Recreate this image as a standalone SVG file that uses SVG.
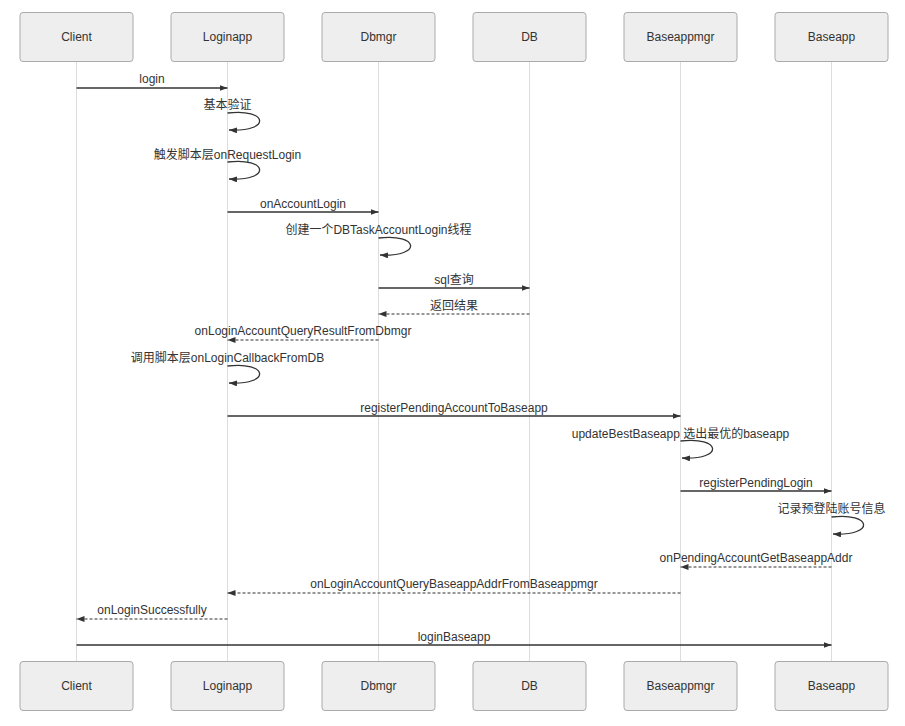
<svg xmlns="http://www.w3.org/2000/svg" width="905" height="726" viewBox="0 0 905 726">
<style>
text{font-family:"Liberation Sans","Noto Sans CJK SC",Arial,sans-serif;font-size:12px;fill:#333;text-anchor:middle}
.box{fill:#eee;stroke:#aaa;stroke-width:1}
.life{stroke:#ddd;stroke-width:1}
.msg{stroke:#333;stroke-width:1.3;fill:none}
.dash{stroke:#333;stroke-width:1.2;fill:none;stroke-dasharray:3,2}
</style>
<defs>
<marker id="arr" markerUnits="userSpaceOnUse" markerWidth="9" markerHeight="7" refX="8" refY="3" orient="auto">
<path d="M0,0 L8,3 L0,6 z" fill="#333"/>
</marker>
</defs>
<rect width="905" height="726" fill="#fff"/>
<g id="lifelines">
<line class="life" x1="76.5" y1="61" x2="76.5" y2="661"/>
<line class="life" x1="227.5" y1="61" x2="227.5" y2="661"/>
<line class="life" x1="378.5" y1="61" x2="378.5" y2="661"/>
<line class="life" x1="529.5" y1="61" x2="529.5" y2="661"/>
<line class="life" x1="680.5" y1="61" x2="680.5" y2="661"/>
<line class="life" x1="831.5" y1="61" x2="831.5" y2="661"/>
</g>
<g id="client"><rect class="box" x="20" y="12.5" width="113" height="49" rx="3"/><text x="76.5" y="41">Client</text><rect class="box" x="20" y="661.5" width="113" height="49" rx="3"/><text x="76.5" y="690">Client</text></g>
<g id="loginapp"><rect class="box" x="171" y="12.5" width="113" height="49" rx="3"/><text x="227.5" y="41">Loginapp</text><rect class="box" x="171" y="661.5" width="113" height="49" rx="3"/><text x="227.5" y="690">Loginapp</text></g>
<g id="dbmgr"><rect class="box" x="322" y="12.5" width="113" height="49" rx="3"/><text x="378.5" y="41">Dbmgr</text><rect class="box" x="322" y="661.5" width="113" height="49" rx="3"/><text x="378.5" y="690">Dbmgr</text></g>
<g id="db"><rect class="box" x="473" y="12.5" width="113" height="49" rx="3"/><text x="529.5" y="41">DB</text><rect class="box" x="473" y="661.5" width="113" height="49" rx="3"/><text x="529.5" y="690">DB</text></g>
<g id="baseappmgr"><rect class="box" x="624" y="12.5" width="113" height="49" rx="3"/><text x="680.5" y="41">Baseappmgr</text><rect class="box" x="624" y="661.5" width="113" height="49" rx="3"/><text x="680.5" y="690">Baseappmgr</text></g>
<g id="baseapp"><rect class="box" x="775" y="12.5" width="113" height="49" rx="3"/><text x="831.5" y="41">Baseapp</text><rect class="box" x="775" y="661.5" width="113" height="49" rx="3"/><text x="831.5" y="690">Baseapp</text></g>
<g id="connectors">
<line class="msg" x1="76.5" y1="88" x2="227.5" y2="88" marker-end="url(#arr)"/>
<text x="152" y="83">login</text>
<path class="msg" d="M227.5,113 C268,108 272,132 229,130" marker-end="url(#arr)"/>
<text x="227.5" y="109">基本验证</text>
<path class="msg" d="M227.5,162 C268,157 272,181 229,179" marker-end="url(#arr)"/>
<text x="227.5" y="159">触发脚本层onRequestLogin</text>
<line class="msg" x1="227.5" y1="212" x2="378.5" y2="212" marker-end="url(#arr)"/>
<text x="303" y="208">onAccountLogin</text>
<path class="msg" d="M378.5,238 C419,233 423,257 380,255" marker-end="url(#arr)"/>
<text x="378.5" y="234">创建一个DBTaskAccountLogin线程</text>
<line class="msg" x1="378.5" y1="288" x2="529.5" y2="288" marker-end="url(#arr)"/>
<text x="454" y="284">sql查询</text>
<line class="dash" x1="529.5" y1="314" x2="378.5" y2="314" marker-end="url(#arr)"/>
<text x="454" y="310">返回结果</text>
<line class="dash" x1="378.5" y1="340" x2="227.5" y2="340" marker-end="url(#arr)"/>
<text x="303" y="335">onLoginAccountQueryResultFromDbmgr</text>
<path class="msg" d="M227.5,366 C268,361 272,385 229,383" marker-end="url(#arr)"/>
<text x="227.5" y="362">调用脚本层onLoginCallbackFromDB</text>
<line class="msg" x1="227.5" y1="416" x2="680.5" y2="416" marker-end="url(#arr)"/>
<text x="454" y="412">registerPendingAccountToBaseapp</text>
<path class="msg" d="M680.5,441 C721,436 725,460 682,458" marker-end="url(#arr)"/>
<text x="680.5" y="438">updateBestBaseapp 选出最优的baseapp</text>
<line class="msg" x1="680.5" y1="491" x2="831.5" y2="491" marker-end="url(#arr)"/>
<text x="756" y="487">registerPendingLogin</text>
<path class="msg" d="M831.5,517 C872,512 876,536 833,534" marker-end="url(#arr)"/>
<text x="831.5" y="513">记录预登陆账号信息</text>
<line class="dash" x1="831.5" y1="567" x2="680.5" y2="567" marker-end="url(#arr)"/>
<text x="756" y="562">onPendingAccountGetBaseappAddr</text>
<line class="dash" x1="680.5" y1="593" x2="227.5" y2="593" marker-end="url(#arr)"/>
<text x="454" y="588">onLoginAccountQueryBaseappAddrFromBaseappmgr</text>
<line class="dash" x1="227.5" y1="619" x2="76.5" y2="619" marker-end="url(#arr)"/>
<text x="152" y="614">onLoginSuccessfully</text>
<line class="msg" x1="76.5" y1="645" x2="831.5" y2="645" marker-end="url(#arr)"/>
<text x="454" y="641">loginBaseapp</text>
</g>
</svg>
